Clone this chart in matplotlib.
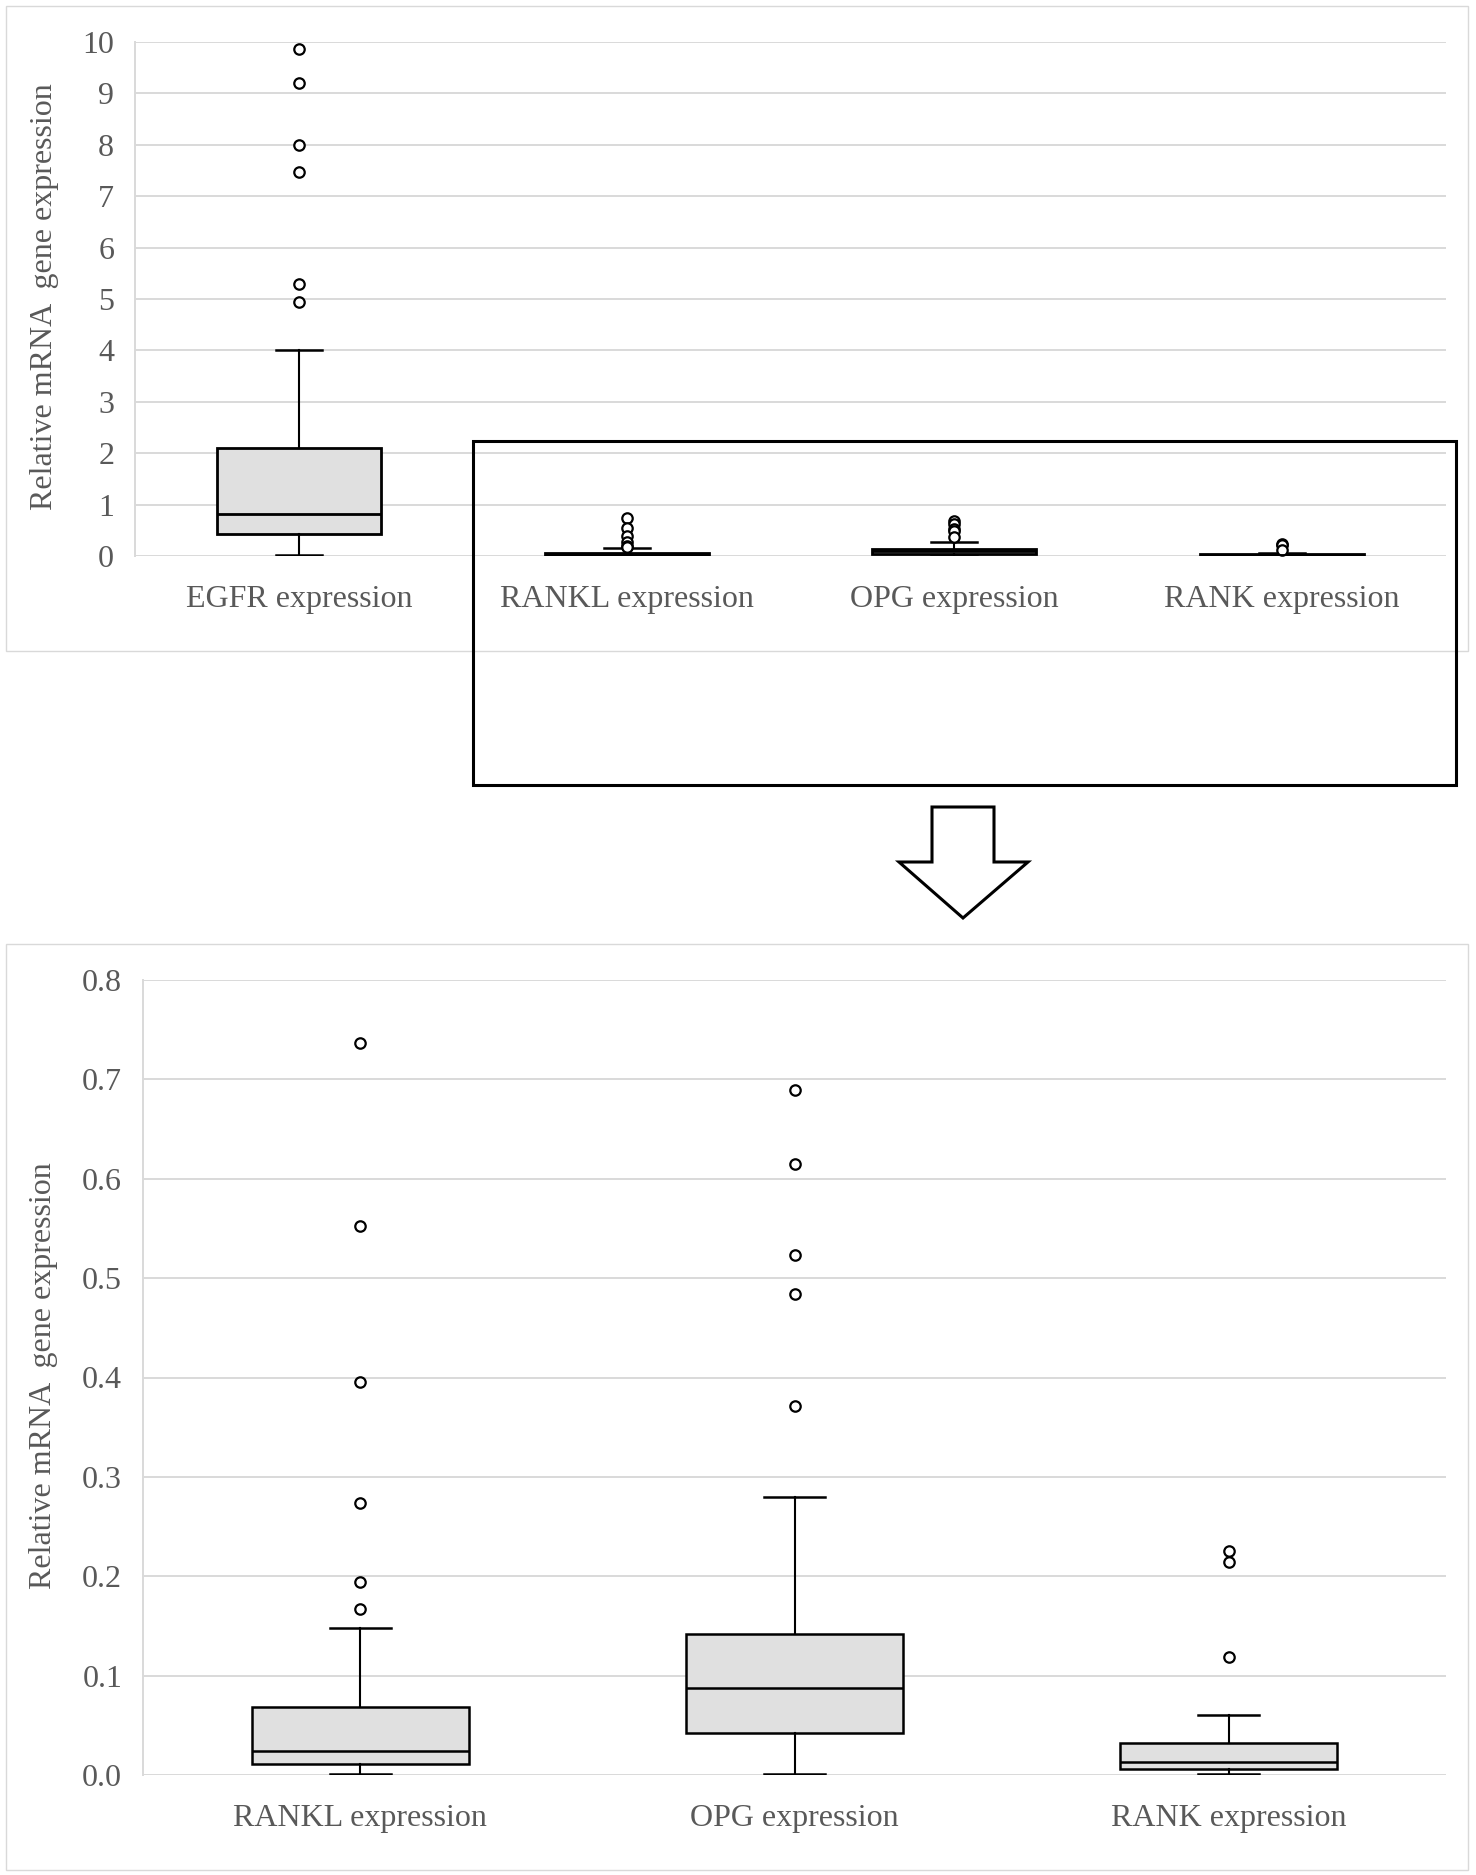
import matplotlib
matplotlib.use("Agg")
import matplotlib.pyplot as plt
from matplotlib.patches import Rectangle, Polygon

plt.rcParams['font.family'] = ['Liberation Serif', 'DejaVu Serif']

# ---------------- data ----------------
categories = ["EGFR expression", "RANKL expression", "OPG expression", "RANK expression"]
q1 = [0.43, 0.011, 0.042, 0.006]
median = [0.81, 0.024, 0.088, 0.013]
q3 = [2.10, 0.068, 0.142, 0.032]
whisker_low = [0.016, 0.0013, 0.0013, 0.001]
whisker_high = [4.00, 0.148, 0.280, 0.060]
outliers = [
    [9.86, 9.20, 8.00, 7.47, 5.29, 4.94],
    [0.737, 0.552, 0.395, 0.274, 0.194, 0.167],
    [0.689, 0.615, 0.523, 0.484, 0.371],
    [0.225, 0.214, 0.119],
]
top_yticks = list(range(0, 11))
bottom_yticks = [0.0, 0.1, 0.2, 0.3, 0.4, 0.5, 0.6, 0.7, 0.8]
bottom_ytick_labels = ["0.0", "0.1", "0.2", "0.3", "0.4", "0.5", "0.6", "0.7", "0.8"]
ylabel = "Relative mRNA  gene expression"

# ---------------- style ----------------
TEXT = "#595959"
GRID = "#d9d9d9"
FILL = "#e0e0e0"
FS = 23

W, H = 1476, 1875
fig = plt.figure(figsize=(W / 100, H / 100), dpi=100)


def stats_for(idx):
    return [dict(med=median[i], q1=q1[i], q3=q3[i], whislo=whisker_low[i],
                 whishi=whisker_high[i], fliers=outliers[i], label=categories[i])
            for i in idx]


def draw(ax, idx, yticks, ylabels, ylim, lw_box):
    n = len(idx)
    pos = [k + 0.5 for k in range(n)]
    ax.bxp(stats_for(idx), positions=pos, widths=0.5, capwidths=0.14,
           patch_artist=True, showfliers=True,
           boxprops=dict(facecolor=FILL, edgecolor="black", linewidth=lw_box),
           medianprops=dict(color="black", linewidth=lw_box),
           whiskerprops=dict(color="black", linewidth=1.5),
           capprops=dict(color="black", linewidth=1.8),
           flierprops=dict(marker="o", markerfacecolor="white", markeredgecolor="black",
                           markersize=7.5, markeredgewidth=1.6, linestyle="none"))
    ax.set_xlim(0, n)
    ax.set_ylim(*ylim)
    ax.set_yticks(yticks)
    ax.set_yticklabels(ylabels)
    ax.set_xticks(pos)
    ax.set_xticklabels([categories[i] for i in idx])
    for y in yticks:
        ax.axhline(y, color=GRID, linewidth=1.4, zorder=0)
    for s in ["top", "right", "bottom"]:
        ax.spines[s].set_visible(False)
    ax.spines["left"].set_color(GRID)
    ax.spines["left"].set_linewidth(1.4)
    ax.spines["left"].set_zorder(0)
    ax.tick_params(axis="y", length=0, pad=15, labelsize=FS, labelcolor=TEXT)
    ax.tick_params(axis="x", length=0, pad=21, labelsize=FS, labelcolor=TEXT)
    ax.set_ylabel(ylabel, fontsize=FS, color=TEXT)
    ax.yaxis.label.set_verticalalignment("center")
    ax.set_facecolor("none")


# top panel frame
fig.add_artist(Rectangle((6 / W, 1 - 651 / H), 1462 / W, 645 / H, transform=fig.transFigure,
                         facecolor="white", edgecolor=GRID, linewidth=1.0, zorder=0))
# bottom panel frame
fig.add_artist(Rectangle((6 / W, 1 - 1870 / H), 1462 / W, 926 / H, transform=fig.transFigure,
                         facecolor="white", edgecolor=GRID, linewidth=1.0, zorder=0))

ax1 = fig.add_axes([135 / W, 1 - 556 / H, (1446 - 135) / W, (556 - 42) / H])
draw(ax1, [0, 1, 2, 3], top_yticks, [str(t) for t in top_yticks], (0, 10), 2.0)
ax1.yaxis.set_label_coords(-0.0694, 0.504)

ax2 = fig.add_axes([143 / W, 1 - 1775 / H, (1446 - 143) / W, (1775 - 980) / H])
draw(ax2, [1, 2, 3], bottom_yticks, bottom_ytick_labels, (0, 0.8), 1.8)
ax2.yaxis.set_label_coords(-0.076, 0.502)

# highlight rectangle
fig.add_artist(Rectangle((473 / W, 1 - 785 / H), (1456 - 473) / W, (785 - 441) / H,
                         transform=fig.transFigure, facecolor="none", edgecolor="black",
                         linewidth=2.2, zorder=10))

# arrow
arrow_px = [(932, 807), (994, 807), (994, 862), (1028, 862), (963, 918), (899, 862), (932, 862)]
fig.add_artist(Polygon([(x / W, 1 - y / H) for x, y in arrow_px], closed=True,
                       transform=fig.transFigure, facecolor="white", edgecolor="black",
                       linewidth=2.2, zorder=10))

fig.savefig("out.png", dpi=100)
